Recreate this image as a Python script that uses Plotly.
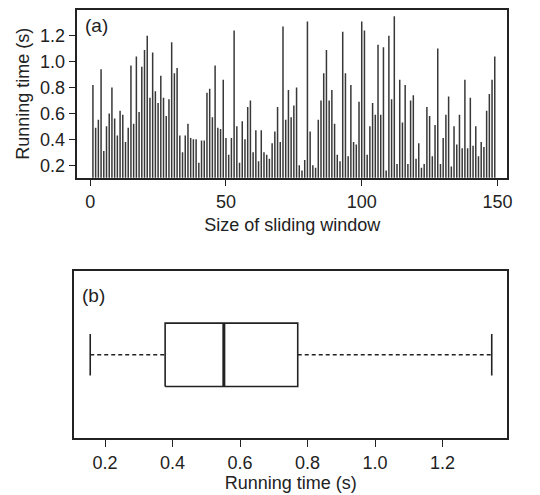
import plotly.graph_objects as go

# ---- data ----
window_sizes = list(range(1, 150))
running_time = [
    0.82, 0.49, 0.55, 0.94, 0.31, 0.50, 0.60, 0.80, 0.56, 0.43,
    0.62, 0.59, 0.38, 0.49, 0.97, 0.52, 1.04, 0.61, 0.96, 1.09,
    1.20, 0.72, 1.07, 0.77, 0.68, 0.89, 0.72, 0.58, 0.71, 1.15,
    0.91, 0.95, 0.43, 0.30, 0.43, 0.52, 0.41, 0.40, 0.40, 0.22,
    0.39, 0.39, 0.76, 0.79, 0.57, 0.97, 0.49, 0.48, 0.86, 0.41,
    0.28, 0.41, 1.24, 0.50, 0.22, 0.54, 0.40, 0.65, 0.70, 0.30,
    0.47, 0.23, 0.47, 0.30, 0.28, 0.25, 0.37, 0.46, 0.65, 0.38,
    1.27, 0.55, 0.78, 0.57, 0.66, 0.80, 0.20, 0.16, 0.24, 1.31,
    0.46, 0.20, 0.18, 0.55, 0.70, 0.91, 1.09, 0.70, 0.78, 0.52,
    0.28, 0.23, 1.23, 0.91, 0.27, 0.82, 0.38, 0.36, 0.69, 1.31,
    1.24, 0.28, 0.50, 0.68, 0.59, 1.13, 0.59, 1.11, 0.16, 1.20,
    0.71, 1.35, 0.21, 0.86, 0.53, 0.82, 0.21, 0.70, 0.74, 0.25,
    0.37, 0.18, 0.21, 0.65, 0.58, 0.27, 0.51, 1.10, 0.21, 0.41,
    0.59, 0.73, 0.19, 0.50, 0.36, 0.59, 0.33, 0.86, 0.33, 0.72,
    0.35, 0.50, 0.27, 0.38, 0.34, 0.62, 0.75, 0.86, 1.04,
]
x_ticks_a = [0, 50, 100, 150]
y_ticks_a = [0.2, 0.4, 0.6, 0.8, 1.0, 1.2]
x_ticks_b = [0.2, 0.4, 0.6, 0.8, 1.0, 1.2]
# boxplot summary (whisker low, Q1, median, Q3, whisker high)
box_low, box_q1, box_median, box_q3, box_high = 0.156, 0.378, 0.552, 0.771, 1.346

FONT = "Liberation Sans, Arial, sans-serif"
INK = "#222222"

fig = go.Figure()

# panel (a): vertical spikes (type='h')
sx, sy = [], []
for w, t in zip(window_sizes, running_time):
    sx += [w, w, None]
    sy += [0, t, None]
fig.add_trace(go.Scatter(x=sx, y=sy, mode="lines",
                         line=dict(color="#383838", width=1.5),
                         xaxis="x", yaxis="y", hoverinfo="skip",
                         showlegend=False))

# panel (b): horizontal boxplot
BY, BH, CH = 0.5, 0.19, 0.125
fig.add_trace(go.Scatter(x=[box_q1, box_q3, box_q3, box_q1, box_q1],
                         y=[BY - BH, BY - BH, BY + BH, BY + BH, BY - BH],
                         mode="lines", line=dict(color=INK, width=1.6),
                         xaxis="x2", yaxis="y2", showlegend=False))
fig.add_trace(go.Scatter(x=[box_median, box_median], y=[BY - BH, BY + BH],
                         mode="lines", line=dict(color=INK, width=3),
                         xaxis="x2", yaxis="y2", showlegend=False))
for a, b in [(box_low, box_q1), (box_q3, box_high)]:
    fig.add_trace(go.Scatter(x=[a, b], y=[BY, BY], mode="lines",
                             line=dict(color=INK, width=1.4, dash="4px,3px"),
                             xaxis="x2", yaxis="y2", showlegend=False))
for c in [box_low, box_high]:
    fig.add_trace(go.Scatter(x=[c, c], y=[BY - CH, BY + CH], mode="lines",
                             line=dict(color=INK, width=1.6),
                             xaxis="x2", yaxis="y2", showlegend=False))

# page body adds an 8px offset; positions below are screen pixels
OFF = 8
W, H = 540 - OFF, 495 - OFF
def px_x(a, b):
    return [(a - OFF) / W, (b - OFF) / W]
def px_y(top, bottom):
    return [1 - (bottom - OFF) / H, 1 - (top - OFF) / H]

axis_common = dict(showline=True, linecolor=INK, linewidth=1.6, mirror=True,
                   showgrid=False, zeroline=False, ticks="outside",
                   ticklen=7, tickwidth=1.3, tickcolor=INK,
                   tickfont=dict(family=FONT, size=18, color=INK))

fig.update_layout(
    width=W, height=H, margin=dict(l=0, r=0, t=0, b=0),
    paper_bgcolor="white", plot_bgcolor="white", showlegend=False,
    xaxis=dict(axis_common, domain=px_x(78, 512), range=[-4.74, 153.6],
               tickvals=x_ticks_a, anchor="y",
               title=dict(text="Size of sliding window", standoff=7,
                          font=dict(family=FONT, size=18, color=INK))),
    yaxis=dict(axis_common, domain=px_y(9, 177), range=[0.104, 1.398],
               tickvals=y_ticks_a, tickformat=".1f", anchor="x",
               title=dict(text="Running time (s)", standoff=6,
                          font=dict(family=FONT, size=18, color=INK))),
    xaxis2=dict(axis_common, domain=px_x(75, 512), range=[0.109, 1.392],
                tickvals=x_ticks_b, tickformat=".1f", anchor="y2",
                title=dict(text="Running time (s)", standoff=4,
                           font=dict(family=FONT, size=18, color=INK))),
    yaxis2=dict(showline=True, linecolor=INK, linewidth=1.6, mirror=True,
                showgrid=False, zeroline=False, showticklabels=False,
                ticks="", domain=px_y(271, 438), range=[0, 1], anchor="x2"),
    annotations=[
        dict(text="(a)", xref="paper", yref="paper", x=(84 - OFF) / W,
             y=1 - (25 - OFF) / H, xanchor="left", yanchor="middle",
             showarrow=False, font=dict(family=FONT, size=19, color=INK)),
        dict(text="(b)", xref="paper", yref="paper", x=(81 - OFF) / W,
             y=1 - (295 - OFF) / H, xanchor="left", yanchor="middle",
             showarrow=False, font=dict(family=FONT, size=19, color=INK)),
    ],
)

fig.write_html("out.html")
